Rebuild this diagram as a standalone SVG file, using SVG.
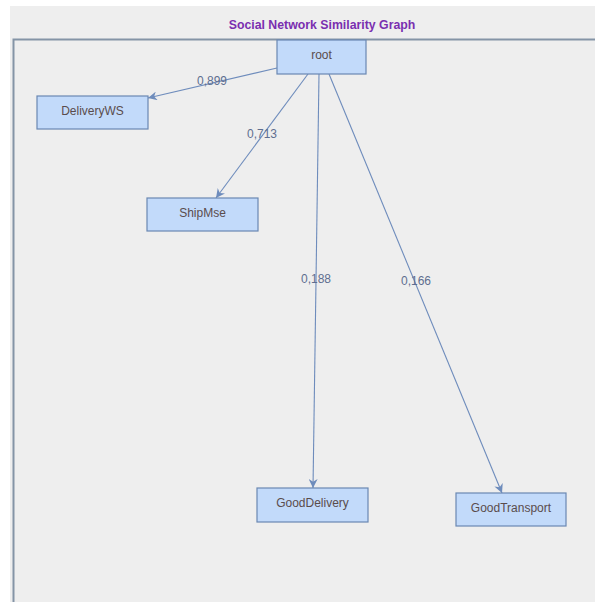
<svg xmlns="http://www.w3.org/2000/svg" width="595" height="602" viewBox="0 0 595 602">
<style>
.node rect{fill:#c2dafa;stroke:#6a88b2;stroke-width:1.2}
.node text{font-family:"Liberation Sans",Arial,sans-serif;font-size:12px;fill:#5a4c4c;text-anchor:middle}
.edge line{stroke:#6e8cbc;stroke-width:1.1}
.elabel{font-family:"Liberation Sans",Arial,sans-serif;font-size:12px;fill:#5e6e90;text-anchor:middle}
</style>
<defs>
<marker id="arr" viewBox="0 0 10 10" refX="10" refY="5" markerWidth="9" markerHeight="9" markerUnits="userSpaceOnUse" orient="auto">
<path d="M0,0 L10,5 L0,10 L3,5 Z" fill="#6e8cbc"/>
</marker>
</defs>
<rect x="0" y="0" width="595" height="602" fill="#ffffff"/>
<rect x="10" y="6" width="585" height="596" fill="#eeeeee"/>
<text x="322" y="29" font-family="Liberation Sans,Arial,sans-serif" font-size="12.3" font-weight="bold" fill="#7a2fb0" text-anchor="middle">Social Network Similarity Graph</text>
<path d="M13.5,602 V39.5 H595" fill="none" stroke="#8494a6" stroke-width="2"/>
<g id="edges" class="edge">
<line x1="277" y1="68" x2="148" y2="98" marker-end="url(#arr)"/>
<line x1="308" y1="74" x2="216" y2="198" marker-end="url(#arr)"/>
<line x1="319" y1="74" x2="313" y2="488" marker-end="url(#arr)"/>
<line x1="329" y1="74" x2="502" y2="493" marker-end="url(#arr)"/>
<text class="elabel" x="212" y="85">0,899</text>
<text class="elabel" x="262" y="138">0,713</text>
<text class="elabel" x="316" y="283">0,188</text>
<text class="elabel" x="416" y="285">0,166</text>
</g>
<g id="root" class="node"><rect x="277" y="40" width="89" height="34"/><text x="321.5" y="59">root</text></g>
<g id="DeliveryWS" class="node"><rect x="37" y="96" width="111" height="33"/><text x="92.5" y="115">DeliveryWS</text></g>
<g id="ShipMse" class="node"><rect x="147" y="198" width="111" height="33"/><text x="202.5" y="217">ShipMse</text></g>
<g id="GoodDelivery" class="node"><rect x="257" y="488" width="111" height="34"/><text x="312.5" y="507">GoodDelivery</text></g>
<g id="GoodTransport" class="node"><rect x="456" y="493" width="110" height="33"/><text x="511" y="512">GoodTransport</text></g>
</svg>
